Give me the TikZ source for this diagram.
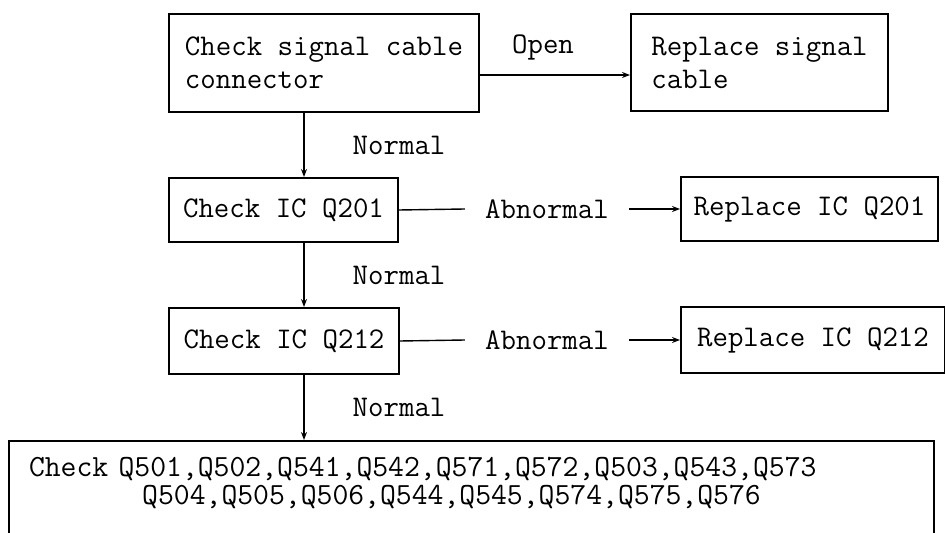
\documentclass[tikz,border=0pt]{standalone}
\usepackage{tikz}
\usetikzlibrary{positioning, arrows.meta}

\begin{document}
\begin{tikzpicture}[
    x=0.5pt, y=-0.5pt,
    block/.style={rectangle, draw=black, line width=1pt, align=left, anchor=north west, inner sep=0pt, font=\ttfamily\fontsize{15}{16.5}\selectfont},
    lbl/.style={inner sep=2pt, font=\ttfamily\fontsize{15}{16.5}\selectfont},
    link/.style={draw=black, line width=0.7pt},
    arrow/.style={-{Stealth[length=4pt, width=3pt]}, line width=0.7pt, draw=black}
]
    \useasboundingbox (0,0) rectangle (945,533);
    \coordinate (spine) at (304,0);

    \node [block, minimum width=155pt, minimum height=49pt] (chkcable) at (168,13) {Check signal cable\\connector};
    \node [block, minimum width=128.5pt, minimum height=48.5pt] (repcable) at (630,13) {Replace signal\\cable};
    \node [block, minimum width=114.5pt, minimum height=32pt] (chkq201) at (168,177) {Check IC Q201};
    \node [block, minimum width=128.5pt, minimum height=32pt] (repq201) at (680,176) {Replace IC Q201};
    \node [block, minimum width=115pt, minimum height=33pt] (chkq212) at (168,307) {Check IC Q212};
    \node [block, minimum width=132pt, minimum height=33pt] (repq212) at (680,306) {Replace IC Q212};
    \node [block, inner xsep=10pt, inner ysep=8pt, text width=442.5pt, text depth=40pt, font=\ttfamily\fontsize{15.4}{14}\selectfont] (chkall) at (8,440)
        {Check Q501,Q502,Q541,Q542,Q571,Q572,Q503,Q543,Q573\\\hspace*{3.675em}Q504,Q505,Q506,Q544,Q545,Q574,Q575,Q576};

    \node [lbl] (open) at (543,47) {Open};
    \node [lbl, inner xsep=10pt] (abn1) at (547,209) {Abnormal};
    \node [lbl, inner xsep=10pt] (abn2) at (547,340) {Abnormal};

    \draw [arrow] ([yshift=-6pt]chkcable.east) -- ([yshift=-6pt]chkcable.east -| repcable.west);
    \draw [arrow] (chkcable.south -| spine) -- node [lbl, right=22pt] (normal1) {Normal} (chkq201.north -| spine);
    \draw [arrow] (chkq201.south -| spine) -- node [lbl, right=22pt] (normal2) {Normal} (chkq212.north -| spine);
    \draw [arrow] (chkq212.south -| spine) -- node [lbl, right=22pt] (normal3) {Normal} (chkall.north -| spine);

    \draw [link] (chkq201.east) -- (abn1.west);
    \draw [arrow] (abn1.east) -- (abn1.east -| repq201.west);
    \draw [link] (chkq212.east) -- (abn2.west);
    \draw [arrow] (abn2.east) -- (abn2.east -| repq212.west);
\end{tikzpicture}
\end{document}
